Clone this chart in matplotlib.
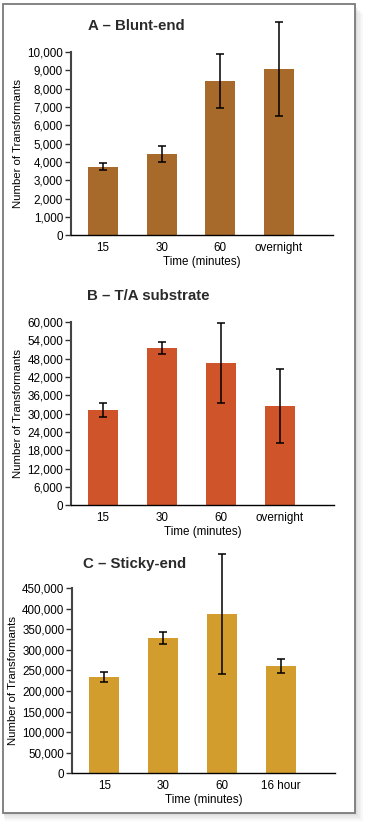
import matplotlib
matplotlib.use("Agg")
import matplotlib.pyplot as plt
from matplotlib.patches import Rectangle
from matplotlib.ticker import FuncFormatter
import numpy as np

plt.rcParams['font.family'] = ['Liberation Sans', 'DejaVu Sans']

# Data
titles = ["A \u2013 Blunt-end", "B \u2013 T/A substrate", "C \u2013 Sticky-end"]
cats_a = ["15", "30", "60", "overnight"]
cats_b = ["15", "30", "60", "overnight"]
cats_c = ["15", "30", "60", "16 hour"]
vals_a = [3740, 4440, 8420, 9070]
err_a = [190, 430, 1480, 2570]
vals_b = [31100, 51500, 46600, 32500]
err_b = [2300, 1950, 13150, 12000]
vals_c = [234000, 328500, 387000, 260500]
err_c = [13000, 14500, 145500, 16000]
yticks_a = list(range(0, 10001, 1000))
yticks_b = list(range(0, 60001, 6000))
yticks_c = list(range(0, 450001, 50000))
colors = ["#a86a2a", "#cf5429", "#d39d2e"]
xlabel = "Time (minutes)"
ylabel = "Number of Transformants"

W, H = 369, 825
fig = plt.figure(figsize=(W / 100, H / 100), dpi=100)
fig.patch.set_facecolor("white")

# shadow + frame
for i, a in enumerate([0.05, 0.05, 0.06, 0.07, 0.08]):
    off = 9 - i * 1.6
    fig.patches.append(Rectangle(((3 + off * 0.2) / W, 1 - (812 + off) / H),
                                 (351 + off * 0.8) / W, (808) / H,
                                 transform=fig.transFigure, facecolor="#888888",
                                 edgecolor="none", alpha=a, zorder=0))
fig.patches.append(Rectangle((3 / W, 1 - 812.5 / H), 351.5 / W, 808.5 / H,
                             transform=fig.transFigure, facecolor="white",
                             edgecolor="#7a7a7a", linewidth=1.3, zorder=1))

panels = [
    (cats_a, vals_a, err_a, yticks_a, colors[0], titles[0], (70.7, 333, 235.3, 52), 25.7, 88),
    (cats_b, vals_b, err_b, yticks_b, colors[1], titles[1], (70.7, 334, 505.3, 322), 295.7, 86.7),
    (cats_c, vals_c, err_c, yticks_c, colors[2], titles[2], (72, 335, 773.3, 588), 564.3, 83),
]

fmt = FuncFormatter(lambda v, p: f"{int(v):,}")

for cats, vals, errs, yt, col, title, (l, r, b, t), ty, tx in panels:
    ax = fig.add_axes([l / W, 1 - b / H, (r - l) / W, (b - t) / H])
    ax.set_zorder(2)
    ax.patch.set_alpha(0)
    x = np.arange(len(cats))
    ax.bar(x, vals, width=0.51, color=col, zorder=2)
    eb = ax.errorbar(x, vals, yerr=errs, fmt="none", ecolor="black",
                     elinewidth=1.1, capsize=3, capthick=1.1, zorder=3)
    for art in list(eb.lines[1]) + list(eb.lines[2]):
        art.set_clip_on(False)
    ax.set_xlim(-0.55, 3.92)
    ax.set_ylim(0, yt[-1])
    ax.set_yticks(yt)
    ax.yaxis.set_major_formatter(fmt)
    ax.set_xticks(x)
    ax.set_xticklabels(cats)
    ax.tick_params(axis="y", length=4, width=1, color="#333333", labelsize=8.4, pad=1.5)
    ax.tick_params(axis="x", length=0, labelsize=8.4, pad=5)
    for s in ["top", "right"]:
        ax.spines[s].set_visible(False)
    ax.spines["left"].set_color("#444444")
    ax.spines["left"].set_linewidth(1.5)
    ax.spines["bottom"].set_color("black")
    ax.spines["bottom"].set_linewidth(1.0)
    ax.set_xlabel(xlabel, fontsize=8.4, labelpad=1.5)
    ax.set_ylabel(ylabel, fontsize=8.2, labelpad=3)
    fig.text(tx / W, 1 - ty / H, title, fontsize=10.8, fontweight="bold",
             color="#2a2a2a", ha="left", va="center")

fig.savefig("out.png", dpi=100)
